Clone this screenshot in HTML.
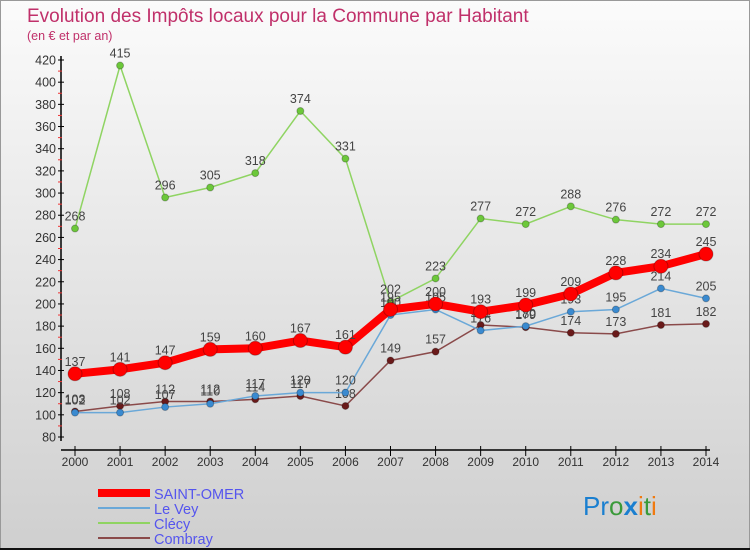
<!DOCTYPE html>
<html><head><meta charset="utf-8"><style>
body{margin:0;width:750px;height:550px;overflow:hidden;font-family:"Liberation Sans",sans-serif}
</style></head><body>
<svg width="750" height="550" xmlns="http://www.w3.org/2000/svg">
<defs><linearGradient id="bg" x1="0" y1="0" x2="0" y2="1"><stop offset="0" stop-color="#fbfbfb"/><stop offset="1" stop-color="#cfcfcf"/></linearGradient></defs>
<rect x="0.5" y="0.5" width="749" height="549" fill="url(#bg)" stroke="#999"/>
<line x1="0" y1="549" x2="750" y2="549" stroke="#111" stroke-width="2"/>
<text x="27" y="22" font-size="19" fill="#c0306a">Evolution des Impôts locaux pour la Commune par Habitant</text>
<text x="27" y="40" font-size="12.5" fill="#c0306a">(en € et par an)</text>
<g id="axes"></g>
<g id="series"></g>
<g id="legend"></g>
<g font-size="26">
<text x="583" y="515"><tspan fill="#1a7fd0">Pr</tspan><tspan fill="#3a9a3a">o</tspan><tspan fill="#1a7fd0" font-weight="bold">x</tspan><tspan fill="#f07a10">i</tspan><tspan fill="#3a9a3a">t</tspan><tspan fill="#f07a10">i</tspan></text>
</g>
</svg>
<script>
const years=[2000,2001,2002,2003,2004,2005,2006,2007,2008,2009,2010,2011,2012,2013,2014];
const saintOmer=[137,141,147,159,160,167,161,195,200,193,199,209,228,234,245];
const leVey=[102,102,107,110,117,120,120,190,195,176,180,193,195,214,205];
const clecy=[268,415,296,305,318,374,331,202,223,277,272,288,276,272,272];
const combray=[103,108,112,112,114,117,108,149,157,181,179,174,173,181,182];
const yTicks=[80,100,120,140,160,180,200,220,240,260,280,300,320,340,360,380,400,420];
const NS="http://www.w3.org/2000/svg";
const xs=i=>75+i*(706-75)/(years.length-1);
const ys=v=>437-(v-80)*(437-60)/340;
function mk(t,a,p){const e=document.createElementNS(NS,t);for(const k in a)e.setAttribute(k,a[k]);p.appendChild(e);return e;}
const ax=document.getElementById('axes');
const yl=mk('line',{x1:61,y1:56,x2:61,y2:441,stroke:'#000','stroke-width':1.5},ax);


const xl=mk('line',{x1:61,y1:450,x2:710,y2:450,stroke:'#000','stroke-width':1.5},ax);


yTicks.forEach(v=>{
  mk('line',{x1:58,y1:ys(v),x2:64,y2:ys(v),stroke:'#000'},ax);
  if(v<420) mk('line',{x1:58,y1:ys(v+10),x2:62,y2:ys(v+10),stroke:'#e33'},ax);
  const t=mk('text',{x:56,y:ys(v)+4.5,'font-size':12.5,'text-anchor':'end',fill:'#333'},ax);
  t.textContent=v;
  
  
});
years.forEach((y,i)=>{
  mk('line',{x1:xs(i),y1:446,x2:xs(i),y2:456,stroke:'#000'},ax);
  const t=mk('text',{x:xs(i),y:466,'font-size':12,'text-anchor':'middle',fill:'#333'},ax);
  t.textContent=y;
  
  
});
const sg=document.getElementById('series');
const defs=[
 {name:'clecy',data:clecy,color:'#8fd462',w:1.5,r:3.5,fill:'#6cc83a'},
 {name:'combray',data:combray,color:'#8a4a4a',w:1.5,r:3.5,fill:'#6a1a1a'},
 {name:'le-vey',data:leVey,color:'#6aa8d8',w:1.5,r:3.5,fill:'#3a8ad0'},
 {name:'saint-omer',data:saintOmer,color:'#f00',w:8,r:7,fill:'#f00'}
];
defs.forEach(s=>{
  const g=mk('g',{},sg);
  
  
  const p=mk('polyline',{points:s.data.map((v,i)=>xs(i)+','+ys(v)).join(' '),fill:'none',stroke:s.color,'stroke-width':s.w},g);
  
  
  s.data.forEach((v,i)=>{
    const c=mk('circle',{cx:xs(i),cy:ys(v),r:s.r,fill:s.fill,stroke:'rgba(0,0,0,0.25)'},g);
    
    
    const t=mk('text',{x:xs(i),y:ys(v)-8,'font-size':12.5,'text-anchor':'middle',fill:'#444'},g);
    t.textContent=v;
    
    
  });
});
const lg=document.getElementById('legend');
const leg=[['SAINT-OMER','#f00',8],['Le Vey','#6aa8d8',2],['Clécy','#8fd462',2],['Combray','#8a4a4a',2]];
leg.forEach((l,i)=>{
  const y=493+i*15;
  const g=mk('g',{},lg);
  
  
  mk('line',{x1:98,y1:y,x2:150,y2:y,stroke:l[1],'stroke-width':l[2]},g);
  const t=mk('text',{x:154,y:y+6,'font-size':14.5,fill:'#5555ee'},g);
  t.textContent=l[0];
});
</script>
</body></html>
